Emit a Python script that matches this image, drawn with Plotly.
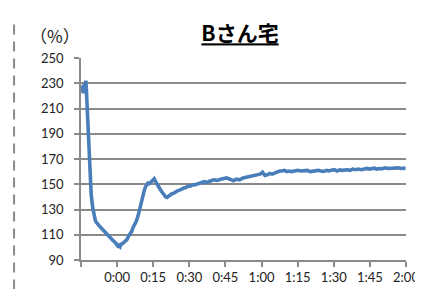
import plotly.graph_objects as go

# elapsed time in minutes (relative to 0:00) and humidity-like ratio (%)
minutes = [-14.8, -14.5, -14.1, -13.8, -13.5, -13.2, -13.0, -12.8, -12.5, -12.1, -11.5,
           -10.75, -10.1, -9.5, -9.0, -8.5, -8.0, -7.4, -6.7, -6.0, -5.3, -4.7, -4.1,
           -3.6, -3.0, -2.5, -2.0, -1.4, -0.8, -0.2, 0.3, 0.7, 1.2, 1.6, 2.2, 2.7, 3.2,
           4.0, 4.8, 5.4, 6.0, 6.7, 7.4, 8.05, 8.7, 9.4, 10.0, 10.5, 11.0, 11.4, 12.1,
           12.8, 13.4, 14.1, 14.8, 15.4, 15.9, 16.5, 17.0, 17.4, 18.2, 18.9, 19.5, 20.1,
           20.7, 21.3, 22.0, 22.8, 23.6, 24.5, 25.3, 26.2, 27.0, 27.8, 28.6, 29.4, 30.3,
           31.2, 32.1, 33.0, 34.0, 35.0, 36.2, 37.2, 38.3, 39.3, 40.3, 41.6, 43.0, 44.2,
           45.5, 46.9, 48.3, 49.5, 50.9, 52.3, 53.6, 55.0, 56.4, 57.4, 58.4, 59.4, 60.4,
           61.4, 62.4, 63.4, 64.4, 65.4, 66.5, 67.5, 68.5, 69.5, 70.5, 71.5, 72.5, 73.8,
           75.0, 76.3, 77.7, 79.0, 80.2, 81.3, 82.5, 83.6, 84.6, 85.8, 87.0, 87.8, 89.0,
           90.2, 91.3, 92.5, 93.6, 94.6, 95.7, 96.8, 97.9, 99.0, 100.2, 101.5, 102.6,
           103.7, 104.7, 105.8, 106.9, 107.9, 109.0, 110.2, 111.4, 112.5, 113.6, 114.8,
           115.8, 116.8, 117.9, 119.0, 119.8]
values = [223, 228, 222, 229, 225, 230, 232, 226, 212, 192, 165,
          141.5, 131, 124, 121, 119.5, 118, 117, 115.5, 114, 112, 111, 110,
          109, 107.5, 107, 106, 105, 104, 102.5, 101, 101.5, 100.5, 102.5, 103, 104, 104.6,
          106, 109, 110.5, 112.5, 116, 118, 121, 125, 131, 135, 139, 142.5, 146, 149,
          151, 150.5, 152, 153, 154.4, 152.5, 151, 149.5, 147.6, 145, 143, 141.5, 140,
          139.5, 140.5, 141.5, 142.5, 143, 144.5, 145, 145.5, 146.5, 147, 147.5, 148.5, 148.5,
          149.5, 149.5, 150, 150.5, 151, 152, 151.5, 152.5, 153, 153.5, 153, 154, 154.5,
          155, 154, 152.8, 154, 153.5, 155, 155.5, 156, 156.4, 157, 157, 158, 159.5,
          157, 157.5, 158.5, 158, 159, 159.5, 160.5, 160.5, 161, 160, 160.5, 160, 160.5,
          161, 160.5, 161, 161, 160, 160.5, 160.5, 161, 160.5, 160.2, 161, 160.5, 161, 161.5,
          160.5, 161.4, 161, 161.5, 161.5, 161, 162, 161.5, 162, 161.5, 162, 162.5, 162,
          162.5, 162.7, 162, 162.5, 162.3, 163, 162.5, 162.7, 162.5, 163, 163,
          162.5, 162.5, 162.8, 162, 161.5]

x_tickvals = [-15, 0, 15, 30, 45, 60, 75, 90, 105, 120]
x_ticktext = ["", "0:00", "0:15", "0:30", "0:45", "1:00", "1:15", "1:30", "1:45", "2:00"]
y_tickvals = [90, 110, 130, 150, 170, 190, 210, 230, 250]

grid_color = "#8a8a8a"
tick_font = dict(family="Lato, 'Open Sans', sans-serif", size=13, color="#222222")

fig = go.Figure()
fig.add_trace(go.Scatter(
    x=minutes, y=values, mode="lines",
    line=dict(color="#4a7ebb", width=3.6),
    hoverinfo="skip", showlegend=False,
))

fig.update_layout(
    width=423, height=289,
    margin=dict(l=73, r=15, t=50, b=28),
    paper_bgcolor="white", plot_bgcolor="white",
    title=dict(
        text="Bさん宅",
        x=232 / 423, xanchor="center",
        y=1 - 26 / 289, yanchor="middle",
        font=dict(family="'Noto Sans CJK JP', sans-serif", size=21, color="#000000",
                  weight="bold", lineposition="under"),
    ),
    xaxis=dict(
        range=[-15, 120], tickmode="array", tickvals=x_tickvals, ticktext=x_ticktext,
        showgrid=False, zeroline=False,
        showline=True, linecolor=grid_color, linewidth=1.5,
        ticks="outside", ticklen=5, tickcolor=grid_color, tickwidth=1.5,
        tickfont=tick_font,
    ),
    yaxis=dict(
        range=[90, 250], tickmode="array", tickvals=y_tickvals,
        showgrid=True, gridcolor=grid_color, gridwidth=1.5, zeroline=False,
        showline=True, linecolor=grid_color, linewidth=1.5,
        ticks="outside", ticklen=5, tickcolor=grid_color, tickwidth=1.5,
        tickfont=tick_font, ticklabelstandoff=8,
    ),
    annotations=[dict(
        text="（%）", xref="paper", yref="paper",
        x=(46 - 73) / 335, y=(261 - 26) / 211, xanchor="center", yanchor="middle",
        showarrow=False,
        font=dict(family="'Noto Sans CJK JP', sans-serif", size=17, color="#222222"),
    )],
    shapes=[dict(
        type="line", xref="paper", yref="paper",
        x0=(4 - 73) / 335, x1=(4 - 73) / 335,
        y0=(261 - 15) / 211, y1=(261 - 292) / 211,
        line=dict(color="#8a8a8a", width=2, dash="10px,7px"),
    )],
)

fig.write_html("out.html")
